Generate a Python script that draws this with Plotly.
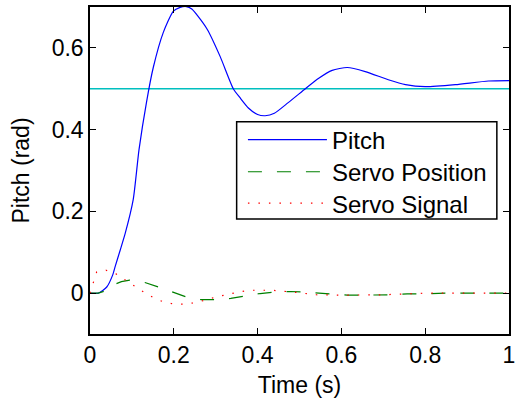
import plotly.graph_objects as go

# Pitch response
pitch_t = [0, 0.02, 0.04, 0.054, 0.06, 0.072, 0.084, 0.103, 0.117, 0.135, 0.151,
           0.175, 0.199, 0.215, 0.23, 0.243, 0.258, 0.28, 0.311, 0.342, 0.358, 0.378,
           0.40, 0.418, 0.44, 0.473, 0.514, 0.545, 0.578, 0.614, 0.657, 0.712, 0.753,
           0.80, 0.872, 0.951, 1.0]
pitch_v = [0, 0.0, 0.015, 0.044, 0.065, 0.105, 0.146, 0.228, 0.351, 0.468, 0.552,
           0.638, 0.69, 0.699, 0.701, 0.695, 0.677, 0.645, 0.578, 0.50, 0.478, 0.453,
           0.437, 0.434, 0.44, 0.466, 0.50, 0.525, 0.545, 0.552, 0.542, 0.522, 0.51,
           0.505, 0.51, 0.519, 0.52]

# Servo position
pos_t = [0, 0.02, 0.035, 0.06, 0.075, 0.095, 0.11, 0.131, 0.163, 0.198, 0.229, 0.265,
         0.299, 0.336, 0.368, 0.406, 0.437, 0.478, 0.509, 0.545, 0.578, 0.614, 0.65,
         0.686, 0.72, 0.757, 0.788, 0.85, 0.9, 1.0]
pos_v = [0, 0.0, 0.005, 0.022, 0.028, 0.032, 0.03, 0.026, 0.015, 0.002, -0.009, -0.016,
         -0.016, -0.013, -0.007, -0.001, 0.002, 0.004, 0.003, 0.0, -0.002, -0.005, -0.005,
         -0.005, -0.004, -0.002, -0.002, 0.0, 0.0, 0.0]

# Servo signal
sig_t = [0, 0.008, 0.016, 0.038, 0.062, 0.084, 0.105, 0.129, 0.151, 0.174, 0.2, 0.227,
         0.253, 0.28, 0.303, 0.33, 0.356, 0.382, 0.435, 0.49, 0.514, 0.54, 0.593, 0.645,
         0.70, 0.777, 0.80, 1.0]
sig_v = [0, 0.026, 0.052, 0.056, 0.047, 0.032, 0.017, 0.002, -0.011, -0.021, -0.027,
         -0.027, -0.023, -0.015, -0.009, -0.003, 0.003, 0.007, 0.007, 0.002, -0.001,
         -0.004, -0.005, -0.005, -0.004, -0.001, 0.0, 0.0]

setpoint = 0.5
x_ticks = [0, 0.2, 0.4, 0.6, 0.8, 1]
x_labels = ["0", "0.2", "0.4", "0.6", "0.8", "1"]
y_ticks = [0, 0.2, 0.4, 0.6]
y_labels = ["0", "0.2", "0.4", "0.6"]

FONT = "Liberation Sans, Arial, Helvetica, sans-serif"

fig = go.Figure()
fig.add_trace(go.Scatter(x=[0, 1], y=[setpoint, setpoint], mode="lines",
                         line=dict(color="rgb(0,191,191)", width=1.5),
                         showlegend=False, hoverinfo="skip"))
fig.add_trace(go.Scatter(x=pitch_t, y=pitch_v, mode="lines", name="Pitch",
                         line=dict(color="rgb(0,0,255)", width=1.2, shape="spline",
                                   smoothing=0.6),
                         legend="legend"))
fig.add_trace(go.Scatter(x=pos_t, y=pos_v, mode="lines", name="Servo Position",
                         line=dict(color="rgb(0,128,0)", width=1.2, dash="14px,15px"),
                         legend="legend2"))
fig.add_trace(go.Scatter(x=sig_t, y=sig_v, mode="lines", name="Servo Signal",
                         line=dict(color="rgb(255,0,0)", width=1.2, dash="1.5px,9px"),
                         legend="legend3"))

axis_common = dict(showline=True, linecolor="black", linewidth=1.5, mirror="ticks",
                   ticks="inside", ticklen=6, tickwidth=1, tickcolor="black",
                   showgrid=False, zeroline=False, automargin=False,
                   ticklabeloverflow="allow",
                   tickfont=dict(family=FONT, size=23, color="black"))

fig.update_xaxes(range=[0, 1], tickvals=x_ticks, ticktext=x_labels,
                 title=dict(text="Time (s)", font=dict(family=FONT, size=23, color="black"),
                            standoff=11),
                 **axis_common)
fig.update_yaxes(range=[-0.1, 0.7], tickvals=y_ticks, ticktext=y_labels,
                 title=dict(text="Pitch (rad)", font=dict(family=FONT, size=23, color="black"),
                            standoff=16),
                 **axis_common)

# legend frame (MATLAB-style box)
fig.add_shape(type="rect", xref="paper", yref="paper",
              x0=0.350, x1=0.971, y0=0.352, y1=0.649,
              line=dict(color="black", width=1.5), fillcolor="white", layer="above")

leg_common = dict(x=0.365, xanchor="left", yanchor="middle",
                  bgcolor="rgba(0,0,0,0)", borderwidth=0,
                  font=dict(family=FONT, size=24, color="black"), itemwidth=79)

fig.update_layout(
    width=515, height=398,
    margin=dict(l=90, r=6, t=7, b=64),
    paper_bgcolor="white", plot_bgcolor="white",
    font=dict(family=FONT, size=23, color="black"),
    legend=dict(y=0.593, **leg_common),
    legend2=dict(y=0.495, **leg_common),
    legend3=dict(y=0.399, **leg_common),
)

fig.write_html("out.html")
